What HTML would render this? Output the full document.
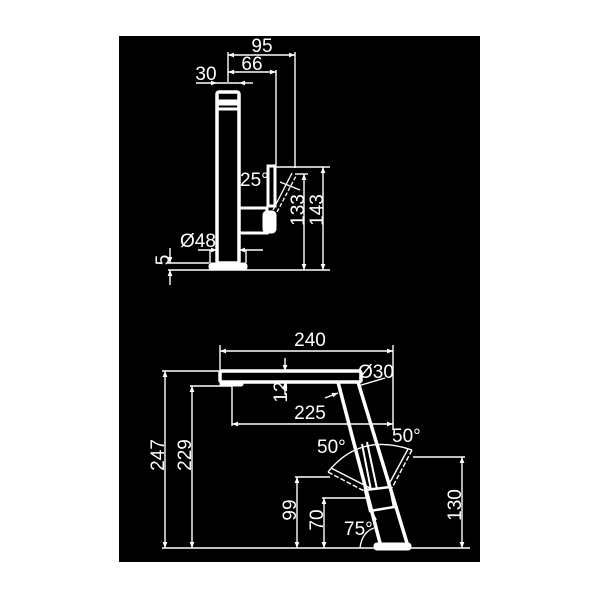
<!DOCTYPE html>
<html><head><style>
html,body{margin:0;padding:0;background:#fff;}
svg{display:block}
text{font-family:"Liberation Sans",sans-serif;fill:#fff;font-size:19px;}
</style></head><body>
<svg width="600" height="600" viewBox="0 0 600 600" xmlns="http://www.w3.org/2000/svg">
<defs>
<marker id="a" viewBox="0 0 10 10" refX="10" refY="5" markerWidth="9" markerHeight="6" orient="auto-start-reverse" markerUnits="userSpaceOnUse"><path d="M0,1 L10,5 L0,9 z" fill="#fff"/></marker>
</defs>
<rect x="119" y="36" width="361" height="526" fill="#000"/>
<g stroke="#fff" fill="none">
<!-- TOP VIEW -->
<rect x="217" y="92" width="22" height="171" stroke-width="3.5" rx="2"/>
<rect x="218" y="100" width="20" height="5" fill="#fff" stroke-width="1"/>
<rect x="218" y="108" width="20" height="2" fill="#fff" stroke-width="1"/>
<rect x="209" y="263" width="38" height="7" rx="3" fill="#fff" stroke-width="1"/>
<rect x="268" y="166" width="7" height="40" stroke-width="3"/>
<rect x="239" y="208" width="28" height="25" stroke-width="3"/>
<rect x="263" y="211" width="13" height="22" rx="4" fill="#fff" stroke-width="1"/>
<line x1="273" y1="210" x2="292" y2="173" stroke-width="1.3"/>
<line x1="277" y1="212" x2="296" y2="176" stroke-width="1.3" stroke-dasharray="4 2"/>
<line x1="280" y1="182" x2="300" y2="190" stroke-width="1.3"/>
<g stroke-width="1.4">
<line x1="228" y1="55" x2="295" y2="55" marker-start="url(#a)" marker-end="url(#a)"/>
<line x1="228" y1="52" x2="228" y2="82"/>
<line x1="295" y1="52" x2="295" y2="168"/>
<line x1="228" y1="72" x2="276" y2="72" marker-start="url(#a)" marker-end="url(#a)"/>
<line x1="276" y1="70" x2="276" y2="165"/>
<line x1="196" y1="83" x2="217" y2="83" marker-end="url(#a)"/>
<line x1="253" y1="83" x2="239" y2="83" marker-end="url(#a)"/>
<line x1="217" y1="83" x2="239" y2="83"/>
<line x1="276" y1="167" x2="330" y2="167"/>
<line x1="295" y1="174" x2="308" y2="174"/>
<line x1="323" y1="167" x2="323" y2="270" marker-start="url(#a)" marker-end="url(#a)"/>
<line x1="304" y1="174" x2="304" y2="270" marker-start="url(#a)" marker-end="url(#a)"/>
<line x1="168" y1="270" x2="330" y2="270"/>
<line x1="168" y1="263" x2="209" y2="263"/>
<line x1="170" y1="248" x2="170" y2="263" marker-end="url(#a)"/>
<line x1="170" y1="285" x2="170" y2="270" marker-end="url(#a)"/>
<line x1="198" y1="250" x2="217" y2="250" marker-end="url(#a)"/>
<line x1="263" y1="250" x2="239" y2="250" marker-end="url(#a)"/>
<line x1="210" y1="250" x2="210" y2="263"/>
<line x1="246" y1="250" x2="246" y2="263"/>
</g>
<!-- SIDE VIEW -->
<rect x="220" y="371" width="141" height="11" rx="2" stroke-width="3.5"/>
<rect x="220" y="382" width="23" height="4" rx="2" fill="#fff" stroke-width="1"/>
<line x1="338" y1="382" x2="380" y2="543" stroke-width="3.5"/>
<line x1="358" y1="382" x2="407" y2="543" stroke-width="3.5"/>
<rect x="374" y="543" width="37" height="7" rx="3" fill="#fff" stroke-width="1"/>
<line x1="362" y1="444" x2="371" y2="490" stroke-width="2"/>
<line x1="367" y1="442" x2="377" y2="489" stroke-width="2"/>
<polygon points="365,490 390,487 394,507 370,511" stroke-width="2.5"/>
<line x1="371" y1="511" x2="376" y2="520" stroke-width="2"/>
<g stroke-width="1.4">
<path d="M328,472 Q360,432 412,450"/>
<line x1="328" y1="472" x2="368" y2="493" stroke-dasharray="5 2"/>
<line x1="331" y1="468" x2="370" y2="488"/>
<line x1="412" y1="450" x2="392" y2="488" stroke-dasharray="5 2"/>
<line x1="408" y1="449" x2="388" y2="486"/>
<path d="M360,548 Q362,532 374,528"/>
<line x1="220" y1="351" x2="393" y2="351" marker-start="url(#a)" marker-end="url(#a)"/>
<line x1="220" y1="345" x2="220" y2="371"/>
<line x1="393" y1="345" x2="393" y2="430"/>
<line x1="232" y1="424" x2="393" y2="424" marker-start="url(#a)" marker-end="url(#a)"/>
<line x1="232" y1="386" x2="232" y2="426"/>
<line x1="162" y1="371" x2="220" y2="371"/>
<line x1="190" y1="386" x2="232" y2="386"/>
<line x1="165" y1="371" x2="165" y2="548" marker-start="url(#a)" marker-end="url(#a)"/>
<line x1="192" y1="386" x2="192" y2="548" marker-start="url(#a)" marker-end="url(#a)"/>
<line x1="162" y1="548" x2="470" y2="548"/>
<line x1="295" y1="477" x2="330" y2="477"/>
<line x1="297" y1="477" x2="297" y2="548" marker-start="url(#a)" marker-end="url(#a)"/>
<line x1="322" y1="498" x2="367" y2="498"/>
<line x1="324" y1="498" x2="324" y2="548" marker-start="url(#a)" marker-end="url(#a)"/>
<line x1="413" y1="457" x2="465" y2="457"/>
<line x1="462" y1="457" x2="462" y2="548" marker-start="url(#a)" marker-end="url(#a)"/>
<line x1="285" y1="358" x2="285" y2="371" marker-end="url(#a)"/>
<line x1="285" y1="395" x2="285" y2="382" marker-end="url(#a)"/>
<line x1="325" y1="398" x2="338" y2="393" marker-end="url(#a)"/>
<line x1="358" y1="386" x2="385" y2="378"/>
</g>
</g>
<g>
<text x="262" y="52" text-anchor="middle">95</text>
<text x="252" y="70" text-anchor="middle">66</text>
<text x="206" y="80" text-anchor="middle">30</text>
<text x="240" y="186">25°</text>
<text x="180" y="247">Ø48</text>
<text transform="translate(304,210) rotate(-90)" text-anchor="middle">133</text>
<text transform="translate(323,210) rotate(-90)" text-anchor="middle">143</text>
<text transform="translate(169,260) rotate(-90)" text-anchor="middle">5</text>
<text x="310" y="346" text-anchor="middle">240</text>
<text x="358" y="378">Ø30</text>
<text x="310" y="419" text-anchor="middle">225</text>
<text x="317" y="453">50°</text>
<text x="392" y="442">50°</text>
<text x="344" y="535">75°</text>
<text transform="translate(287,392) rotate(-90)" text-anchor="middle">12</text>
<text transform="translate(164,455) rotate(-90)" text-anchor="middle">247</text>
<text transform="translate(191,455) rotate(-90)" text-anchor="middle">229</text>
<text transform="translate(296,510) rotate(-90)" text-anchor="middle">99</text>
<text transform="translate(323,520) rotate(-90)" text-anchor="middle">70</text>
<text transform="translate(461,505) rotate(-90)" text-anchor="middle">130</text>
</g>
</svg>
</body></html>
